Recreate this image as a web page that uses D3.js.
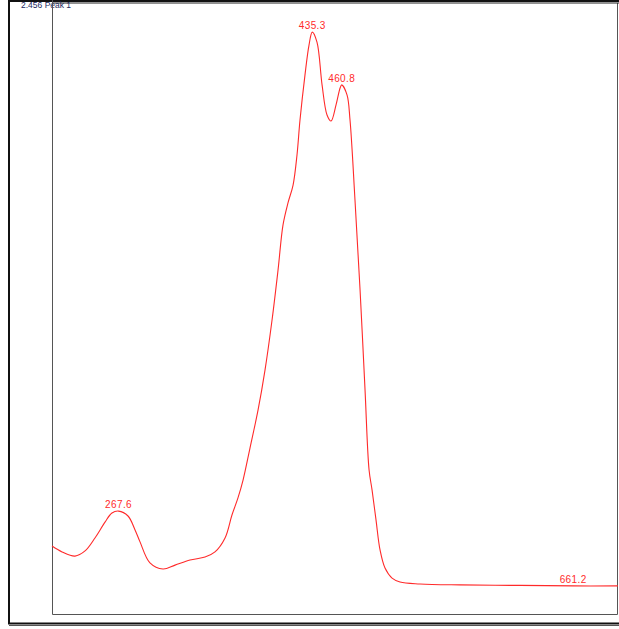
<!DOCTYPE html>
<html>
<head>
<meta charset="utf-8">
<script src="https://cdn.jsdelivr.net/npm/d3@7"></script>
<style>
  body { margin: 0; background: #fff; }
  svg { display: block; }
</style>
</head>
<body>
<script>
// wavelength (nm) and absorbance
const wavelengths = [210.0, 218.7, 229.9, 238.6, 247.2, 255.9, 261.9, 267.6, 275.8, 281.9, 286.2, 294.8, 306.1,
  316.5, 329.5, 342.5, 351.1, 359.8, 365.8, 371.0, 375.4, 381.4, 388.4,
  394.4, 400.5, 405.7, 410.0, 414.3, 418.7, 422.1, 424.7, 429.0, 432.5,
  435.3, 439.4, 443.8, 448.1, 451.6, 455.9, 459.4, 460.8, 465.4, 468.0,
  472.3, 476.7, 481.0, 484.5, 487.1, 490.5, 494.0, 498.3, 504.4, 511.3,
  528.6, 563.2, 615.2, 661.2, 700.0]
const absorbance = [0.278, 0.254, 0.237, 0.258, 0.311, 0.376, 0.413, 0.421, 0.401, 0.344, 0.295, 0.209, 0.184,
  0.200, 0.221, 0.233, 0.254, 0.311, 0.405, 0.475, 0.548, 0.679, 0.835,
  0.998, 1.203, 1.408, 1.592, 1.682, 1.755, 1.878, 2.021, 2.205, 2.328,
  2.381, 2.340, 2.165, 2.042, 2.017, 2.083, 2.152, 2.165, 2.124, 2.021,
  1.694, 1.326, 0.917, 0.589, 0.507, 0.385, 0.262, 0.188, 0.147, 0.131,
  0.123, 0.119, 0.117, 0.115, 0.115]
const peakLabels = ["267.6", "435.3", "460.8", "661.2"]
const title = "2.456 Peak 1"

const width = 619
const height = 629
const marginTop = 3
const marginRight = 1
const marginBottom = 15
const marginLeft = 52

const data = wavelengths.map((w, i) => ({ w, a: absorbance[i] }))

const x = d3.scaleLinear()
    .domain([210, 700])
    .range([marginLeft, width - marginRight])

const y = d3.scaleLinear()
    .domain([0, 2.5])
    .range([height - marginBottom, marginTop])

const svg = d3.select("body").append("svg")
    .attr("width", width)
    .attr("height", height)
    .attr("viewBox", [0, 0, width, height])

// outer border
svg.append("path")
    .attr("d", `M9,1 H${width} M9,0 V623.5 H${width}`)
    .attr("fill", "none")
    .attr("stroke", "#111")
    .attr("stroke-width", 2)
svg.append("line")
    .attr("x1", 9).attr("x2", width)
    .attr("y1", 625.5).attr("y2", 625.5)
    .attr("stroke", "#555")
    .attr("stroke-width", 1)

// plot frame
svg.append("path")
    .attr("d", `M${marginLeft + 0.5},${marginTop} V${height - marginBottom + 0.5} H${width - 1.5} V${marginTop}`)
    .attr("fill", "none")
    .attr("stroke", "#555")
    .attr("stroke-width", 1)
svg.append("line")
    .attr("x1", marginLeft).attr("x2", width)
    .attr("y1", 3).attr("y2", 3)
    .attr("stroke", "#222")

// title, partly crossed by the frame like the original
svg.append("text")
    .attr("x", 21)
    .attr("y", 8)
    .attr("font-family", "Liberation Sans, Arial, sans-serif")
    .attr("font-size", 8.5)
    .attr("fill", "#1c2a5e")
    .text(title)
svg.append("line")
    .attr("x1", marginLeft + 0.5).attr("x2", marginLeft + 0.5)
    .attr("y1", 0).attr("y2", 12)
    .attr("stroke", "#555")

// spectrum
const line = d3.line()
    .x(d => x(d.w))
    .y(d => y(d.a))
    .curve(d3.curveCatmullRom.alpha(0.5))

svg.append("path")
    .datum(data)
    .attr("fill", "none")
    .attr("stroke", "#ff2a2a")
    .attr("stroke-width", 1.1)
    .attr("d", line)

// peak labels
const peaks = peakLabels.map(p => data.find(d => d.w === +p))
svg.append("g")
    .attr("font-family", "Liberation Sans, Arial, sans-serif")
    .attr("font-size", 10)
    .attr("letter-spacing", 0.4)
    .attr("fill", "#ff2a2a")
    .attr("text-anchor", "middle")
    .selectAll("text")
    .data(peaks)
    .join("text")
    .attr("x", d => x(d.w))
    .attr("y", d => y(d.a) - 3)
    .text(d => d.w.toFixed(1))
</script>
</body>
</html>
